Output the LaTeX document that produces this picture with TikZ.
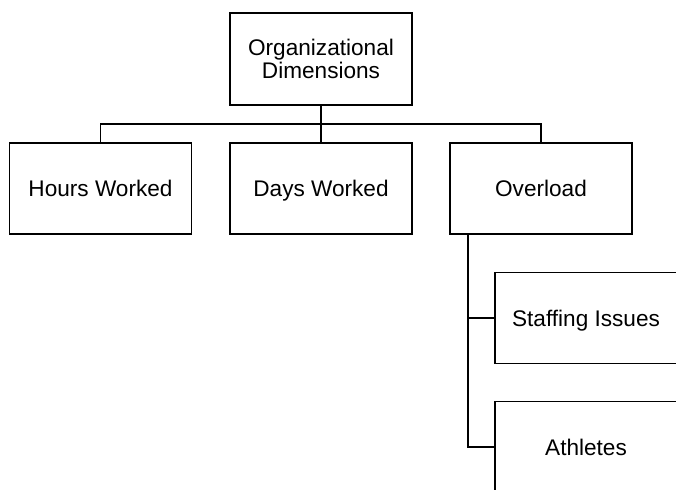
\documentclass[tikz,border=0pt]{standalone}
\usepackage{fontspec}
\setmainfont{Liberation Sans}
\begin{document}
\begin{tikzpicture}[x=1pt,y=-1pt,
  box/.style={draw=black, line width=1.3pt, minimum width=182pt, minimum height=91pt, inner sep=0pt, font=\fontsize{22.6}{23.5}\selectfont, text=black},
  one/.style={box, text height=16.2pt, text depth=0pt},
  conn/.style={draw=black, line width=1.3pt}]
\useasboundingbox (0,0) rectangle (676,489);
\clip (0,0) rectangle (676,489);
\node[box, align=center, minimum height=92pt] (top) at (321,59) {Organizational\\Dimensions};
\node[one] (hours) at (100.5,188.5) {Hours Worked};
\node[one] (days) at (321,188.5) {Days Worked};
\node[one] (over) at (541,188.5) {Overload};
\node[one] (staff) at (586,318) {Staffing Issues};
\node[one] (ath) at (586,447) {Athletes};
\coordinate (bus) at (321,124);
\coordinate (trunk) at (468,234);
\draw[conn] (top.south) -- (days.north);
\draw[conn] (hours.north) |- (bus) -| (over.north);
\draw[conn] (trunk) |- (staff.west);
\draw[conn] (trunk) |- (ath.west);
\end{tikzpicture}
\end{document}
